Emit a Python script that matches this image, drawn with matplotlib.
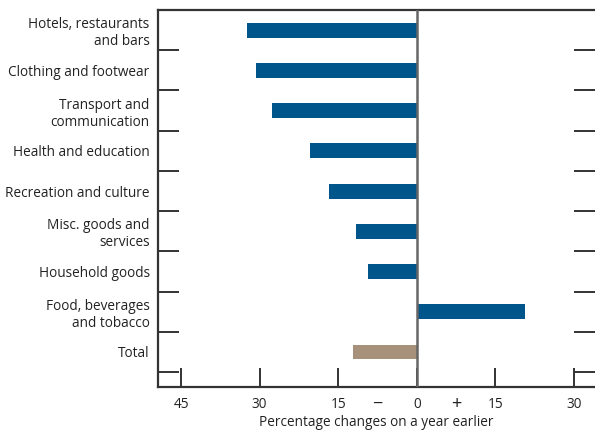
import matplotlib.pyplot as plt
import numpy as np

categories = [
    "Hotels, restaurants\nand bars",
    "Clothing and footwear",
    "Transport and\ncommunication",
    "Health and education",
    "Recreation and culture",
    "Misc. goods and\nservices",
    "Household goods",
    "Food, beverages\nand tobacco",
    "Total",
]
values = [-32.4, -30.7, -27.6, -20.3, -16.7, -11.6, -9.3, 20.7, -12.2]
xtick_values = [-45, -30, -15, 0, 15, 30]
xtick_labels = ["45", "30", "15", "0", "15", "30"]

BLUE = "#00558B"
TAN = "#A8917A"

plt.rcParams["font.family"] = ["Open Sans", "DejaVu Sans"]

fig = plt.figure(figsize=(5.95, 4.3), dpi=100)
ax = fig.add_axes([158 / 595, 43 / 430, 1 - 158 / 595, 377 / 430])

y = np.arange(len(categories))
colors = [BLUE] * (len(categories) - 1) + [TAN]
ax.barh(y, values, height=0.37, color=colors, zorder=2)
ax.axvline(0, color="#666666", lw=1.8, zorder=3)

ax.set_xlim(-49.4, 34.0)
ax.set_ylim(8.87, -0.5)

# category labels, no tick marks
ax.set_yticks(y)
ax.set_yticklabels(categories, fontsize=9.8, color="#222222", linespacing=1.2)
ax.tick_params(axis="y", which="major", length=0, pad=6)
# boundary ticks on both sides
ax.set_yticks(np.arange(len(categories)) + 0.5, minor=True)
ax.tick_params(axis="y", which="minor", direction="in", length=15, width=1.4,
               color="#333333", left=True, right=True)

ax.set_xticks(xtick_values)
ax.set_xticklabels(xtick_labels, fontsize=9.8, color="#222222")
ax.tick_params(axis="x", which="major", direction="in", length=14, width=1.4,
               color="#333333", pad=7)

# sign markers between the tick labels
for xv, sign in [(-7.5, "\u2212"), (7.5, "+")]:
    ax.text(xv, -0.045, sign, transform=ax.get_xaxis_transform(),
            ha="center", va="center", fontsize=13, color="#222222")

ax.set_xlabel("Percentage changes on a year earlier", fontsize=9.8,
              color="#222222", labelpad=2)

for side in ["left", "top", "bottom"]:
    ax.spines[side].set_color("#333333")
    ax.spines[side].set_linewidth(1.6)
ax.spines["right"].set_visible(False)

fig.savefig("out.png", dpi=100)
